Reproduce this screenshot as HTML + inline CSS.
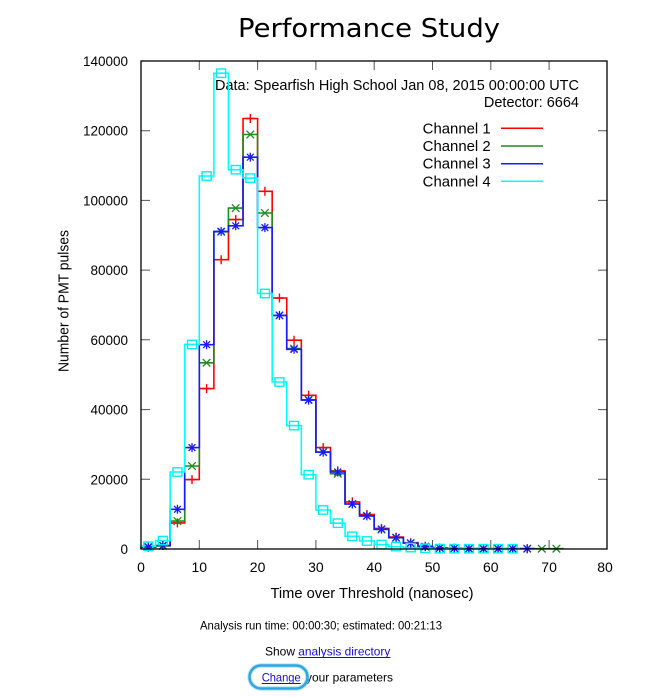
<!DOCTYPE html>
<html>
<head>
<meta charset="utf-8">
<style>
html,body{margin:0;padding:0;background:#fff;}
svg{display:block;}
text{font-family:"Liberation Sans",Arial,sans-serif;fill:#000;}
</style>
</head>
<body>
<svg width="651" height="697" viewBox="0 0 651 697" xmlns="http://www.w3.org/2000/svg">
<defs>
  <path id="mp" d="M-4.5,0H4.5M0,-4.5V4.5" fill="none" stroke="#ff0000" stroke-width="1.4"/>
  <path id="mx" d="M-3.8,-3.8L3.8,3.8M-3.8,3.8L3.8,-3.8" fill="none" stroke="#1f8a1f" stroke-width="1.3"/>
  <path id="ms" d="M-4.5,0H4.5M0,-4.5V4.5M-3.4,-3.4L3.4,3.4M-3.4,3.4L3.4,-3.4" fill="none" stroke="#1a1aff" stroke-width="1.3"/>
  <rect id="mb" x="-4.5" y="-4.2" width="9" height="8.4" fill="none" stroke="#00f0f0" stroke-width="1.4"/>
</defs>

<!-- Title -->
<text x="369" y="37" text-anchor="middle" style="font-family:'DejaVu Sans','Liberation Sans',sans-serif;font-size:26px" textLength="262" lengthAdjust="spacingAndGlyphs">Performance Study</text>

<!-- Ticks -->
<g stroke="#555" stroke-width="1">
  <path d="M141,479.3H150M141,409.6H150M141,339.8H150M141,270.1H150M141,200.4H150M141,130.7H150"/>
  <path d="M607,479.3H598M607,409.6H598M607,339.8H598M607,270.1H598M607,200.4H598M607,130.7H598"/>
  <path d="M199.3,549V540M257.6,549V540M315.9,549V540M374.2,549V540M432.5,549V540M490.8,549V540M549.1,549V540"/>
  <path d="M199.3,61V70M257.6,61V70M315.9,61V70M374.2,61V70M432.5,61V70M490.8,61V70M549.1,61V70"/>
</g>

<!-- Y tick labels -->
<g font-size="13.5" text-anchor="end">
  <text x="128" y="554">0</text>
  <text x="128" y="484.3">20000</text>
  <text x="128" y="414.6">40000</text>
  <text x="128" y="344.8">60000</text>
  <text x="128" y="275.1">80000</text>
  <text x="128" y="205.4">100000</text>
  <text x="128" y="135.7">120000</text>
  <text x="128" y="66">140000</text>
</g>
<!-- X tick labels -->
<g font-size="14" text-anchor="middle">
  <text x="141" y="572">0</text>
  <text x="199.3" y="572">10</text>
  <text x="257.6" y="572">20</text>
  <text x="315.9" y="572">30</text>
  <text x="374.2" y="572">40</text>
  <text x="432.5" y="572">50</text>
  <text x="490.8" y="572">60</text>
  <text x="549.1" y="572">70</text>
  <text x="605" y="572">80</text>
</g>

<!-- Axis labels -->
<text x="372" y="598" font-size="14.5" text-anchor="middle" textLength="203" lengthAdjust="spacingAndGlyphs">Time over Threshold (nanosec)</text>
<text transform="translate(68.5,301) rotate(-90)" font-size="14.5" text-anchor="middle" textLength="142" lengthAdjust="spacingAndGlyphs">Number of PMT pulses</text>

<!-- Info text -->
<text x="579" y="90" font-size="14.5" text-anchor="end" textLength="364" lengthAdjust="spacingAndGlyphs">Data: Spearfish High School Jan 08, 2015 00:00:00 UTC</text>
<text x="579" y="107" font-size="14.5" text-anchor="end">Detector: 6664</text>

<!-- Legend -->
<g font-size="14.5">
  <text x="422.7" y="133.3" textLength="68" lengthAdjust="spacingAndGlyphs">Channel 1</text>
  <text x="422.7" y="151" textLength="68" lengthAdjust="spacingAndGlyphs">Channel 2</text>
  <text x="422.7" y="168.7" textLength="68" lengthAdjust="spacingAndGlyphs">Channel 3</text>
  <text x="422.7" y="186.3" textLength="68" lengthAdjust="spacingAndGlyphs">Channel 4</text>
</g>
<g stroke-width="1.5">
  <path d="M501,128.3H543" stroke="#ff0000"/>
  <path d="M501,146H543" stroke="#1f8a1f"/>
  <path d="M501,163.7H543" stroke="#1a1aff"/>
  <path d="M501,181.3H543" stroke="#00ffff"/>
</g>

<!-- Series step lines -->
<g fill="none" stroke-width="1.6" stroke-linejoin="miter">
<path stroke="#ff0000" d="M141,549V547.3H155.58V545.5H170.15V522.9H184.73V479.6H199.3V388.6H213.88V259.7H228.45V219.6H243.03V118.5H257.6V191.3H272.18V298.0H286.75V340.2H301.33V395.3H315.9V447.6H330.48V470.9H345.05V501.9H359.63V514.5H374.2V528.4H388.78V537.1H403.35V542.7H417.93V546.2H432.5V548.0H447.08V548.3H461.65V548.7H534.53"/>
<path stroke="#1f8a1f" d="M141,549V547.3H155.58V545.9H170.15V521.1H184.73V466.0H199.3V362.8H213.88V231.8H228.45V208.1H243.03V134.5H257.6V213.0H272.18V315.4H286.75V348.6H301.33V399.8H315.9V452.1H330.48V473.7H345.05V504.0H359.63V515.9H374.2V529.5H388.78V537.8H403.35V543.1H417.93V546.6H432.5V548.0H447.08V548.3H461.65V548.7H563.68"/>
<path stroke="#1a1aff" d="M141,549V546.9H155.58V545.5H170.15V509.3H184.73V447.6H199.3V344.7H213.88V231.4H228.45V225.8H243.03V157.2H257.6V227.6H272.18V315.4H286.75V349.3H301.33V400.1H315.9V452.1H330.48V472.0H345.05V504.0H359.63V515.9H374.2V529.1H388.78V537.5H403.35V543.1H417.93V546.6H432.5V548.0H447.08V548.3H461.65V548.7H534.53"/>
<path stroke="#00ffff" d="M141,549V546.2H155.58V540.6H170.15V472.0H184.73V344.4H199.3V176.0H213.88V73.2H228.45V169.7H243.03V178.1H257.6V293.5H272.18V382.0H286.75V425.6H301.33V474.7H315.9V510.0H330.48V523.2H345.05V536.3H359.63V541.0H374.2V544.6H388.78V546.6H403.35V547.6H417.93V548.3H432.5V548.7H519.95"/>
</g>

<!-- Markers: red + -->
<g>
<use href="#mp" x="148.29" y="547.3"/><use href="#mp" x="162.86" y="545.5"/><use href="#mp" x="177.44" y="522.9"/><use href="#mp" x="192.01" y="479.6"/><use href="#mp" x="206.59" y="388.6"/><use href="#mp" x="221.16" y="259.7"/><use href="#mp" x="235.74" y="219.6"/><use href="#mp" x="250.31" y="118.5"/><use href="#mp" x="264.89" y="191.3"/><use href="#mp" x="279.46" y="298.0"/><use href="#mp" x="294.04" y="340.2"/><use href="#mp" x="308.61" y="395.3"/><use href="#mp" x="323.19" y="447.6"/><use href="#mp" x="337.76" y="470.9"/><use href="#mp" x="352.34" y="501.9"/><use href="#mp" x="366.91" y="514.5"/><use href="#mp" x="381.49" y="528.4"/><use href="#mp" x="396.06" y="537.1"/><use href="#mp" x="410.64" y="542.7"/><use href="#mp" x="425.21" y="546.2"/><use href="#mp" x="439.79" y="548.0"/><use href="#mp" x="454.36" y="548.3"/><use href="#mp" x="468.94" y="548.7"/><use href="#mp" x="483.51" y="548.7"/><use href="#mp" x="498.09" y="548.7"/><use href="#mp" x="512.66" y="548.7"/><use href="#mp" x="527.24" y="548.7"/>
</g>
<!-- green x -->
<g>
<use href="#mx" x="148.29" y="547.3"/><use href="#mx" x="162.86" y="545.9"/><use href="#mx" x="177.44" y="521.1"/><use href="#mx" x="192.01" y="466.0"/><use href="#mx" x="206.59" y="362.8"/><use href="#mx" x="221.16" y="231.8"/><use href="#mx" x="235.74" y="208.1"/><use href="#mx" x="250.31" y="134.5"/><use href="#mx" x="264.89" y="213.0"/><use href="#mx" x="279.46" y="315.4"/><use href="#mx" x="294.04" y="348.6"/><use href="#mx" x="308.61" y="399.8"/><use href="#mx" x="323.19" y="452.1"/><use href="#mx" x="337.76" y="473.7"/><use href="#mx" x="352.34" y="504.0"/><use href="#mx" x="366.91" y="515.9"/><use href="#mx" x="381.49" y="529.5"/><use href="#mx" x="396.06" y="537.8"/><use href="#mx" x="410.64" y="543.1"/><use href="#mx" x="425.21" y="546.6"/><use href="#mx" x="439.79" y="548.0"/><use href="#mx" x="454.36" y="548.3"/><use href="#mx" x="468.94" y="548.7"/><use href="#mx" x="483.51" y="548.7"/><use href="#mx" x="498.09" y="548.7"/><use href="#mx" x="512.66" y="548.7"/><use href="#mx" x="527.24" y="548.7"/><use href="#mx" x="541.81" y="548.7"/><use href="#mx" x="556.39" y="548.7"/>
</g>
<!-- blue * -->
<g>
<use href="#ms" x="148.29" y="546.9"/><use href="#ms" x="162.86" y="545.5"/><use href="#ms" x="177.44" y="509.3"/><use href="#ms" x="192.01" y="447.6"/><use href="#ms" x="206.59" y="344.7"/><use href="#ms" x="221.16" y="231.4"/><use href="#ms" x="235.74" y="225.8"/><use href="#ms" x="250.31" y="157.2"/><use href="#ms" x="264.89" y="227.6"/><use href="#ms" x="279.46" y="315.4"/><use href="#ms" x="294.04" y="349.3"/><use href="#ms" x="308.61" y="400.1"/><use href="#ms" x="323.19" y="452.1"/><use href="#ms" x="337.76" y="472.0"/><use href="#ms" x="352.34" y="504.0"/><use href="#ms" x="366.91" y="515.9"/><use href="#ms" x="381.49" y="529.1"/><use href="#ms" x="396.06" y="537.5"/><use href="#ms" x="410.64" y="543.1"/><use href="#ms" x="425.21" y="546.6"/><use href="#ms" x="439.79" y="548.0"/><use href="#ms" x="454.36" y="548.3"/><use href="#ms" x="468.94" y="548.7"/><use href="#ms" x="483.51" y="548.7"/><use href="#ms" x="498.09" y="548.7"/><use href="#ms" x="512.66" y="548.7"/><use href="#ms" x="527.24" y="548.7"/>
</g>
<!-- cyan boxes -->
<g>
<use href="#mb" x="148.29" y="546.2"/><use href="#mb" x="162.86" y="540.6"/><use href="#mb" x="177.44" y="472.0"/><use href="#mb" x="192.01" y="344.4"/><use href="#mb" x="206.59" y="176.0"/><use href="#mb" x="221.16" y="73.2"/><use href="#mb" x="235.74" y="169.7"/><use href="#mb" x="250.31" y="178.1"/><use href="#mb" x="264.89" y="293.5"/><use href="#mb" x="279.46" y="382.0"/><use href="#mb" x="294.04" y="425.6"/><use href="#mb" x="308.61" y="474.7"/><use href="#mb" x="323.19" y="510.0"/><use href="#mb" x="337.76" y="523.2"/><use href="#mb" x="352.34" y="536.3"/><use href="#mb" x="366.91" y="541.0"/><use href="#mb" x="381.49" y="544.6"/><use href="#mb" x="396.06" y="546.6"/><use href="#mb" x="410.64" y="547.6"/><use href="#mb" x="425.21" y="548.3"/><use href="#mb" x="439.79" y="548.7"/><use href="#mb" x="454.36" y="548.7"/><use href="#mb" x="468.94" y="548.7"/><use href="#mb" x="483.51" y="548.7"/><use href="#mb" x="498.09" y="548.7"/><use href="#mb" x="512.66" y="548.7"/>
</g>

<!-- Plot border -->
<rect x="141" y="61" width="466" height="488" fill="none" stroke="#000" stroke-width="1.3"/>

<!-- Bottom text -->
<text x="200" y="629.5" font-size="12" textLength="242" lengthAdjust="spacingAndGlyphs">Analysis run time: 00:00:30; estimated: 00:21:13</text>
<text x="265" y="655.5" font-size="12">Show</text>
<text x="298.3" y="655.5" font-size="12" style="fill:#1a0dcc" textLength="92" lengthAdjust="spacingAndGlyphs">analysis directory</text>
<path d="M298.3,657.5H390.5" stroke="#1a0dcc" stroke-width="1"/>
<text x="261.7" y="681.5" font-size="12" style="fill:#1a0dcc" textLength="39" lengthAdjust="spacingAndGlyphs">Change</text>
<path d="M261.7,683.5H300.7" stroke="#1a0dcc" stroke-width="1"/>
<text x="306" y="681.5" font-size="12" textLength="87" lengthAdjust="spacingAndGlyphs">your parameters</text>
<rect x="249.5" y="665.5" width="58" height="23" rx="11.5" ry="11.5" fill="none" stroke="#8fd3f2" stroke-width="4.5" opacity="0.6"/>
<rect x="249.5" y="665.5" width="58" height="23" rx="11.5" ry="11.5" fill="none" stroke="#2ea6e0" stroke-width="2.5"/>
</svg>
</body>
</html>
